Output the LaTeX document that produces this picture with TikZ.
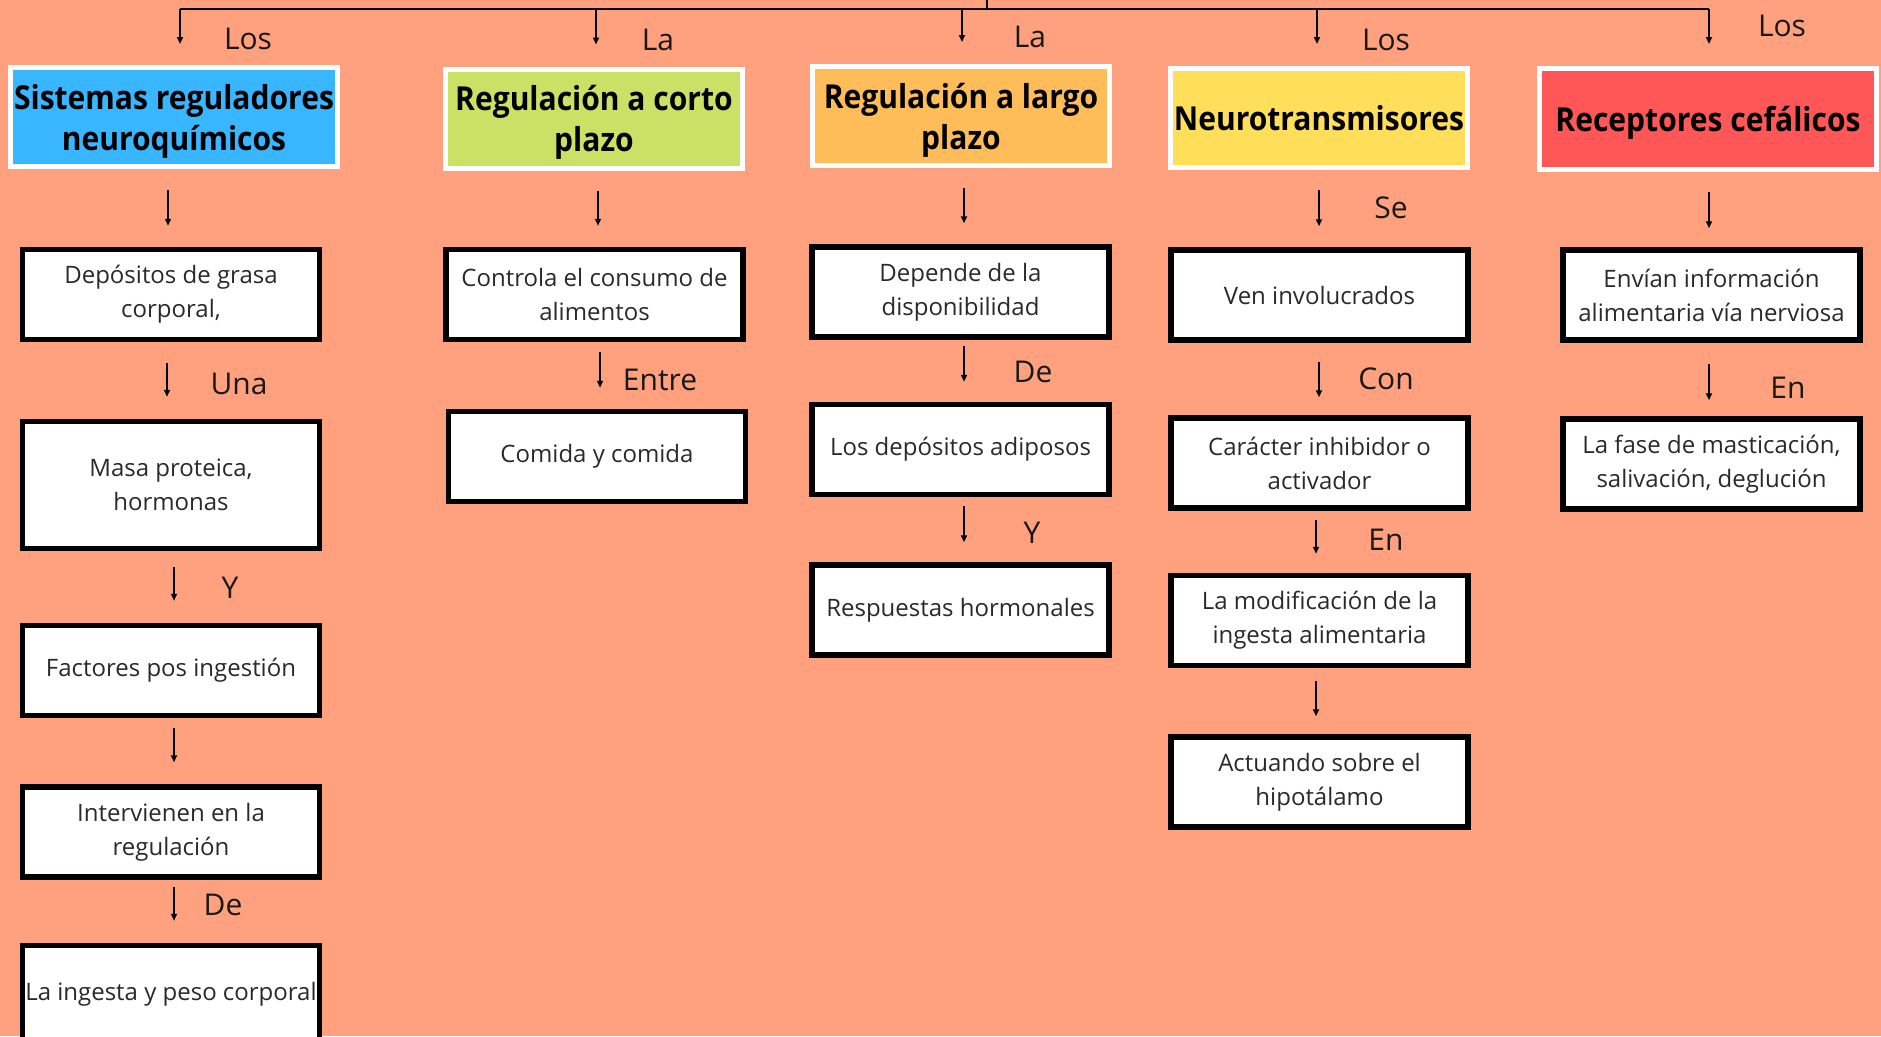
\documentclass[tikz,border=0pt]{standalone}
\usepackage{fontspec}
\setmainfont{Open Sans}
\newfontfamily\hfont[FakeStretch=0.91]{Open Sans}
\usetikzlibrary{arrows.meta}
\definecolor{bg}{HTML}{FFA07F}
\definecolor{cblue}{HTML}{38B6FF}
\definecolor{cgreen}{HTML}{C9E265}
\definecolor{corange}{HTML}{FFBD59}
\definecolor{cyellow}{HTML}{FFDE59}
\definecolor{cred}{HTML}{FF5757}
\definecolor{txt}{HTML}{2A2A2A}
\begin{document}
\begin{tikzpicture}[x=1pt,y=-1pt,
  hbox/.style={draw=white, line width=5pt, align=center, inner sep=0pt, text depth=0pt,
    font=\hfont\fontsize{33}{41}\selectfont\bfseries, text=black},
  tbox/.style={draw=black, fill=white, line width=5.5pt, align=center, inner sep=0pt,
    minimum width=297pt, minimum height=90pt,
    font=\fontsize{24}{34}\selectfont, text=txt},
  lbl/.style={inner sep=0pt, font=\fontsize{30}{36}\selectfont, text=black!90},
  arr/.style={line width=1.8pt, -{Triangle[length=7pt,width=6pt]}},
  topline/.style={line width=2.4pt}
]
\useasboundingbox[fill=bg] (0,0) rectangle (1881,1036);

% header boxes
\node[hbox, fill=cblue, minimum width=327pt, minimum height=99pt] (h1) at (174,117) {Sistemas reguladores\\neuroquímicos};
\node[hbox, fill=cgreen, minimum width=297pt, minimum height=99pt] (h2) at (594,118.5) {Regulación a corto\\plazo};
\node[hbox, fill=corange, minimum width=297pt, minimum height=99pt] (h3) at (961,116) {Regulación a largo\\plazo};
\node[hbox, fill=cyellow, minimum width=297pt, minimum height=99pt] (h4) at (1319,118) {Neurotransmisores};
\node[hbox, fill=cred, minimum width=337pt, minimum height=101pt] (h5) at (1708,119) {Receptores cefálicos};

% column 1
\node[tbox] (b11) at (171,294.5) {Depósitos de grasa\\corporal,};
\node[tbox, minimum height=127pt] (b12) at (171,485) {Masa proteica,\\hormonas};
\node[tbox] (b13) at (171,670.5) {Factores pos ingestión};
\node[tbox] (b14) at (171,832) {Intervienen en la\\regulación};
\node[tbox, minimum height=97pt] (b15) at (171,994) {La ingesta y peso corporal};

% column 2
\node[tbox] (b21) at (594.5,294.5) {Controla el consumo de\\alimentos};
\node[tbox] (b22) at (597,456.5) {Comida y comida};

% column 3
\node[tbox] (b31) at (960.5,292) {Depende de la\\disponibilidad};
\node[tbox] (b32) at (960.5,449.5) {Los depósitos adiposos};
\node[tbox] (b33) at (960.5,610) {Respuestas hormonales};

% column 4
\node[tbox] (b41) at (1319.5,295) {Ven involucrados};
\node[tbox] (b42) at (1319.5,463) {Carácter inhibidor o\\activador};
\node[tbox] (b43) at (1319.5,620.5) {La modificación de la\\ingesta alimentaria};
\node[tbox] (b44) at (1319.5,782) {Actuando sobre el\\hipotálamo};

% column 5
\node[tbox] (b51) at (1711.5,295) {Envían información\\alimentaria vía nerviosa};
\node[tbox] (b52) at (1711.5,464) {La fase de masticación,\\salivación, deglución};

% top connector tree
\coordinate (root) at (987,-5);
\coordinate (t1) at (180,9);
\coordinate (t2) at (596,9);
\coordinate (t3) at (962,9);
\coordinate (t4) at (1317,9);
\coordinate (t5) at (1709,9);
\draw[topline] (root) -- (root |- t1);
\draw[topline] (t1) -- (t5);
\draw[arr, shorten >=21pt] (t1) -- (t1 |- h1.north);
\draw[arr, shorten >=22pt] (t2) -- (t2 |- h2.north);
\draw[arr, shorten >=22pt] (t3) -- (t3 |- h3.north);
\draw[arr, shorten >=22pt] (t4) -- (t4 |- h4.north);
\draw[arr, shorten >=22pt] (t5) -- (t5 |- h5.north);

% top labels
\node[lbl] (l1) at (248,39) {Los};
\node[lbl] (l2) at (658,40) {La};
\node[lbl] (l3) at (1030,37) {La};
\node[lbl] (l4) at (1386,40) {Los};
\node[lbl] (l5) at (1782,26) {Los};

% column 1 arrows
\draw[arr, shorten <=21pt, shorten >=21pt] ([xshift=-6pt]h1.south) -- ([xshift=-3pt]b11.north);
\draw[arr, shorten <=21pt, shorten >=22pt] ([xshift=-4pt]b11.south) -- ([xshift=-4pt]b12.north);
\draw[arr, shorten <=16pt, shorten >=22pt] ([xshift=3pt]b12.south) -- ([xshift=3pt]b13.north);
\draw[arr, shorten <=10pt, shorten >=22pt] ([xshift=3pt]b13.south) -- ([xshift=3pt]b14.north);
\draw[arr, shorten <=7pt, shorten >=22pt] ([xshift=3pt]b14.south) -- ([xshift=3pt]b15.north);
\node[lbl] (c12) at (239,384) {Una};
\node[lbl] (c13) at (230,588) {Y};
\node[lbl] (c15) at (223,905) {De};

% column 2 arrows
\draw[arr, shorten <=20pt, shorten >=21pt] ([xshift=4pt]h2.south) -- ([xshift=3.5pt]b21.north);
\draw[arr, shorten <=10pt, shorten >=21pt] ([xshift=5.5pt]b21.south) -- ([xshift=3pt]b22.north);
\node[lbl] (c22) at (660,380) {Entre};

% column 3 arrows
\draw[arr, shorten <=20pt, shorten >=21pt] ([xshift=3pt]h3.south) -- ([xshift=3.5pt]b31.north);
\draw[arr, shorten <=6pt, shorten >=20pt] ([xshift=3.5pt]b31.south) -- ([xshift=3.5pt]b32.north);
\draw[arr, shorten <=9pt, shorten >=20pt] ([xshift=3.5pt]b32.south) -- ([xshift=3.5pt]b33.north);
\node[lbl] (c32) at (1033,372) {De};
\node[lbl] (c33) at (1032,533) {Y};

% column 4 arrows
\draw[arr, shorten <=20pt, shorten >=21pt] (h4.south) -- ([xshift=-0.5pt]b41.north);
\draw[arr, shorten <=19pt, shorten >=18pt] ([xshift=-0.5pt]b41.south) -- ([xshift=-0.5pt]b42.north);
\draw[arr, shorten <=9pt, shorten >=19pt] ([xshift=-3.5pt]b42.south) -- ([xshift=-3.5pt]b43.north);
\draw[arr, shorten <=13pt, shorten >=18pt] ([xshift=-3.5pt]b43.south) -- ([xshift=-3.5pt]b44.north);
\node[lbl] (c41) at (1391,208) {Se};
\node[lbl] (c42) at (1386,379) {Con};
\node[lbl] (c43) at (1386,540) {En};

% column 5 arrows
\draw[arr, shorten <=20pt, shorten >=19pt] ([xshift=1pt]h5.south) -- ([xshift=-2.5pt]b51.north);
\draw[arr, shorten <=21pt, shorten >=16pt] ([xshift=-2.5pt]b51.south) -- ([xshift=-2.5pt]b52.north);
\node[lbl] (c52) at (1788,388) {En};
\end{tikzpicture}
\end{document}
